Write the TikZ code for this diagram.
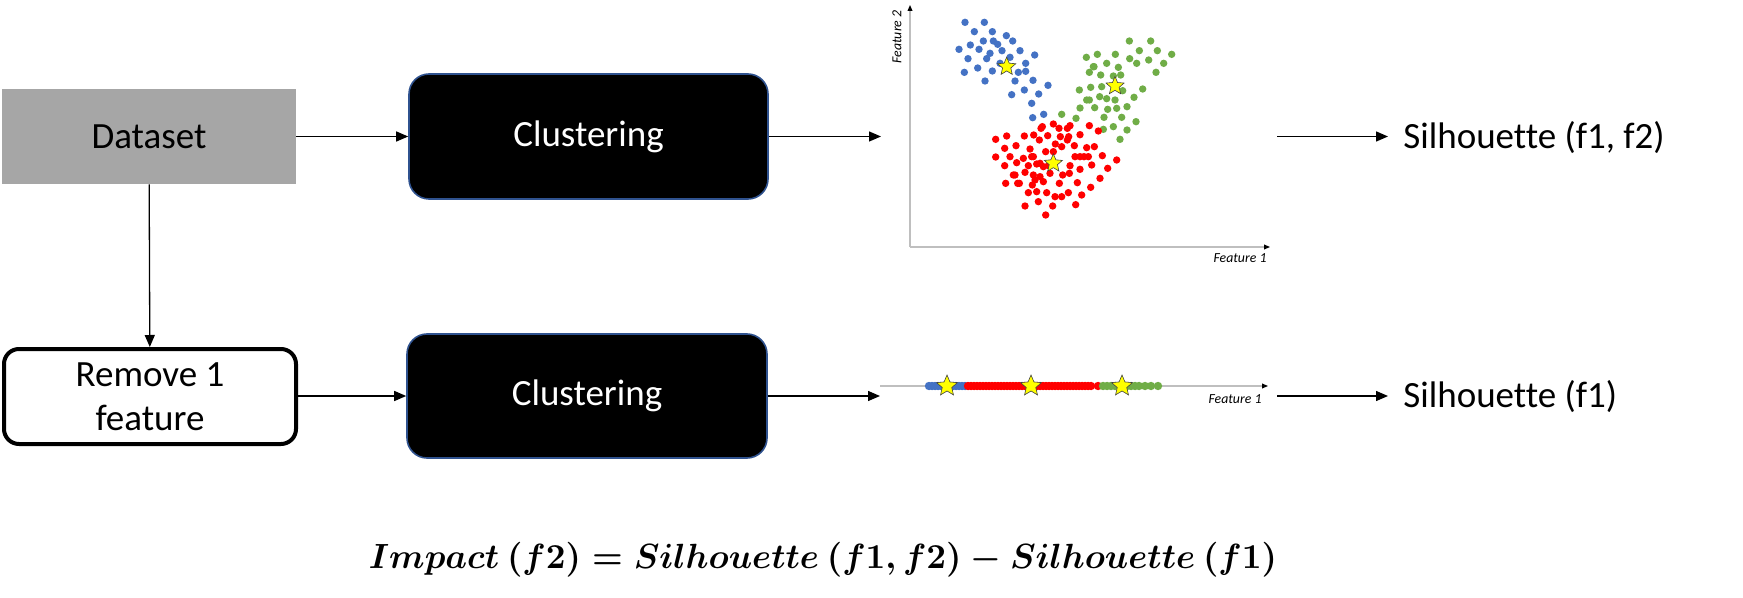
\documentclass[tikz,border=0pt]{standalone}
\usepackage{fontspec}
\setmainfont{Carlito}[Ligatures={NoCommon}]
\usepackage{amsmath}
\usepackage{graphicx}
\usetikzlibrary{arrows.meta,shapes.geometric}
\definecolor{dsgray}{HTML}{A6A6A6}
\definecolor{cborder}{HTML}{2F528F}
\definecolor{cblue}{HTML}{4472C4}
\definecolor{cgreen}{HTML}{70AD47}
\definecolor{cred}{HTML}{FF0000}
\definecolor{axisgray}{HTML}{BFBFBF}
\definecolor{staryellow}{HTML}{FFFF00}
\begin{document}
\begin{tikzpicture}[x=0.5pt,y=-0.5pt,
  bigtext/.style={font=\fontsize{18.5}{22}\selectfont},
  flow/.style={-{Triangle[length=6pt,width=5pt]}, line width=0.65pt},
  clbox/.style={rounded corners=10pt, fill=black, draw=cborder, line width=0.8pt,
    text=white, bigtext, inner sep=0pt},
  axisline/.style={draw=axisgray, line width=0.6pt, -{Triangle[length=3pt,width=2.4pt,color=black]}},
  featlabel/.style={font=\fontsize{6.9}{8}\selectfont\itshape, inner sep=0pt},
  centroid/.style={star, star points=5, star point ratio=2.2, fill=staryellow,
    draw=black!75, line width=0.3pt, minimum size=9.5pt, inner sep=0pt},
  bigcentroid/.style={centroid, minimum size=11pt}
]
\useasboundingbox (0,0) rectangle (1743,598);

% boxes
\node[fill=dsgray, minimum width=147pt, minimum height=47.5pt, inner sep=0pt, bigtext] (data) at (149,136.5) {Dataset};
\node[clbox, minimum width=179.5pt, minimum height=62.5pt] (clu1) at (588.5,136.5) {Clustering};
\node[draw=black, line width=2pt, rounded corners=7.5pt, fill=white, minimum width=146pt,
  minimum height=47.5pt, inner sep=0pt, align=center, bigtext] (remove) at (150,396.5) {Remove 1\\feature};
\node[clbox, minimum width=180pt, minimum height=62pt] (clu2) at (587,396) {Clustering};

% connector ends at the plots
\coordinate (p1in) at (881,136.5);
\coordinate (p1out) at (1277,136.5);
\coordinate (p2in) at (880,396);
\coordinate (p2out) at (1277,396);

\draw[flow] (data) -- (clu1);
\draw[flow] (data) -- (remove);
\draw[flow] (remove.east |- clu2) -- (clu2);
\draw[flow] (clu1) -- (p1in);
\draw[flow] (clu2) -- (p2in);

% outputs
\node[anchor=west, inner sep=0pt, bigtext] (sil1) at (1403,138) {Silhouette (f1, f2)};
\node[anchor=west, inner sep=0pt, bigtext] (sil2) at (1403,397) {Silhouette (f1)};
\coordinate (s1in) at (1388,136.5);
\coordinate (s2in) at (1388,396);
\draw[flow] (p1out) -- (s1in);
\draw[flow] (p2out) -- (s2in);

% 2D scatter axes
\coordinate (org) at (910,247);
\draw[axisline] (org) -- (910,5);
\draw[axisline] (org) -- (1270,247);
\node[featlabel, rotate=90] (f2lab) at (897,37) {Feature 2};
\node[featlabel] (f1lab) at (1240,258) {Feature 1};

\begin{scope}[shift={(440pt,0pt)}, x=0.166667pt, y=-0.166667pt]
\foreach \a/\b in {255/67, 313/67, 283/95, 337/95, 379/107, 310/123, 340/123, 398/123, 271/135, 353/133, 237/148, 297/148, 366/152, 420/152, 330/160, 464/165, 264/176, 320/176, 390/172, 437/190, 253/217, 293/204, 337/213, 360/190, 415/217, 437/214, 315/243, 405/243, 459/241, 504/256, 395/284, 433/270, 476/282, 455/310, 458/353, 491/343}
  \fill[cblue] (\a,\b) circle[radius=1.85pt];
\foreach \a/\b in {748/123, 812/123, 778/152, 832/152, 875/163, 619/172, 652/163, 706/163, 749/176, 806/180, 680/190, 715/202, 770/190, 851/190, 642/200, 628/217, 662/225, 700/228, 722/225, 828/217, 598/270, 632/262, 665/260, 728/272, 788/267, 620/300, 659/290, 680/296, 705/300, 762/292, 600/324, 644/323, 683/328, 710/325, 741/320, 545/343, 588/355, 672/352, 725/352, 768/365, 670/388, 700/380, 741/390, 720/418, 628/300, 640/200}
  \fill[cgreen] (\a,\b) circle[radius=1.85pt];
\foreach \a/\b in {487/380, 520/372, 570/377, 628/377, 483/385, 537/385, 562/385, 347/418, 380/408, 433/408, 461/405, 503/407, 541/410, 566/410, 600/404, 655/393, 374/445, 408/437, 450/447, 478/420, 526/432, 545/440, 583/437, 620/443, 643/440, 562/420, 347/471, 390/470, 430/475, 460/470, 497/455, 600/470, 612/470, 667/467, 710/480, 455/470, 480/490, 374/497, 410/488, 445/497, 470/492, 490/500, 505/497, 570/497, 600/508, 635/495, 683/505, 400/525, 435/517, 460/525, 510/520, 548/525, 568/520, 660/535, 377/550, 418/550, 457/555, 490/545, 538/550, 592/548, 632/562, 445/578, 470/575, 500/578, 525/590, 545/590, 565/578, 605/585, 475/605, 587/614, 435/618, 518/618, 497/645, 405/525, 413/550, 480/530, 465/540, 520/455, 585/470, 625/470}
  \fill[cred] (\a,\b) circle[radius=1.85pt];
\node[centroid] (c2b) at (380,200) {};
\node[centroid] (c2g) at (705,258) {};
\node[centroid] (c2r) at (520,490) {};
\end{scope}

% 1D plot
\draw[axisline] (880,386) -- (1268,386);
\node[featlabel] (f1lab2) at (1235,399) {Feature 1};
\foreach \a in {929,932,...,965}
  \fill[cblue] (\a,386) circle[radius=2.1pt];
\foreach \a in {968,971,...,1092}
  \fill[cred] (\a,386) circle[radius=2.1pt];
\fill[cred] (1098,386) circle[radius=2.1pt];
\foreach \a in {1103,1107,...,1140,1145,1151,1158}
  \fill[cgreen] (\a,386) circle[radius=2.1pt];
\node[bigcentroid] (c1b) at (947,386) {};
\node[bigcentroid] (c1r) at (1031,386) {};
\node[bigcentroid] (c1g) at (1122,386) {};

% formula
\node[inner sep=0pt] (formula) at (823,560) {\resizebox*{454pt}{17.5pt}{$\boldsymbol{Impact\ (f2) = Silhouette\ (f1, f2) - Silhouette\ (f1)}$}};
\end{tikzpicture}
\end{document}
